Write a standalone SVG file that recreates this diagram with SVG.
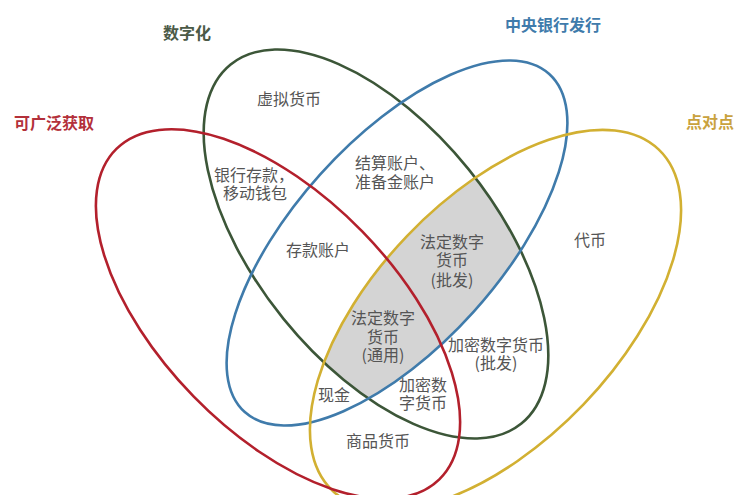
<svg xmlns="http://www.w3.org/2000/svg" width="734" height="495" viewBox="0 0 734 495">
<style>
.e{fill:none;stroke-width:2.6}
.t{font-family:"Noto Sans CJK SC","Noto Sans",sans-serif;font-size:16px;fill:#555;text-anchor:middle}
.h{font-family:"Noto Sans CJK SC","Noto Sans",sans-serif;font-size:16px;font-weight:bold;text-anchor:middle}
</style>
<defs>
<clipPath id="cg"><ellipse cx="376" cy="244" rx="231" ry="119" transform="rotate(51 376 244)"/></clipPath>
<clipPath id="cb"><ellipse cx="397" cy="243" rx="227.5" ry="103" transform="rotate(-48 397 243)"/></clipPath>
</defs>
<rect width="734" height="495" fill="#fff"/>
<g id="shade" clip-path="url(#cg)"><g clip-path="url(#cb)"><ellipse cx="495.5" cy="320" rx="236" ry="122" transform="rotate(-46.2 495.5 320)" fill="#d4d4d4"/></g></g>
<g id="connectors">
<g id="set-digital"><ellipse class="e" stroke="#3c5638" cx="376" cy="244" rx="231" ry="119" transform="rotate(51 376 244)"/></g>
<g id="set-central"><ellipse class="e" stroke="#3f7bab" cx="397" cy="243" rx="227.5" ry="103" transform="rotate(-48 397 243)"/></g>
<g id="set-p2p"><ellipse class="e" stroke="#d2b032" cx="495.5" cy="320" rx="236" ry="122" transform="rotate(-46.2 495.5 320)"/></g>
<g id="set-access"><ellipse class="e" stroke="#b3202c" cx="278" cy="314" rx="231" ry="118" transform="rotate(45.7 278 314)"/></g>
</g>
<g id="titles">
<text class="h" x="187" y="39" fill="#4b5a47">数字化</text>
<text class="h" x="553" y="31" fill="#3f7bab">中央银行发行</text>
<text class="h" x="710" y="128" fill="#c9a23e">点对点</text>
<text class="h" x="54" y="129" fill="#b3303a">可广泛获取</text>
</g>
<g id="labels">
<text class="t" x="289" y="105">虚拟货币</text>
<text class="t" x="254" y="181">银行存款，<tspan x="255" dy="18">移动钱包</tspan></text>
<text class="t" x="355" y="169" style="text-anchor:start">结算账户、<tspan x="355" dy="19">准备金账户</tspan></text>
<text class="t" x="318" y="256">存款账户</text>
<text class="t" x="452" y="248">法定数字<tspan x="452" dy="18">货币</tspan><tspan x="452" dy="20">(批发)</tspan></text>
<text class="t" x="383" y="324">法定数字<tspan x="383" dy="19">货币</tspan><tspan x="383" dy="18">(通用)</tspan></text>
<text class="t" x="496" y="351">加密数字货币<tspan x="496" dy="18">(批发)</tspan></text>
<text class="t" x="423" y="391">加密数<tspan x="423" dy="18">字货币</tspan></text>
<text class="t" x="334" y="401">现金</text>
<text class="t" x="378" y="447">商品货币</text>
<text class="t" x="590" y="246">代币</text>
</g>
</svg>
